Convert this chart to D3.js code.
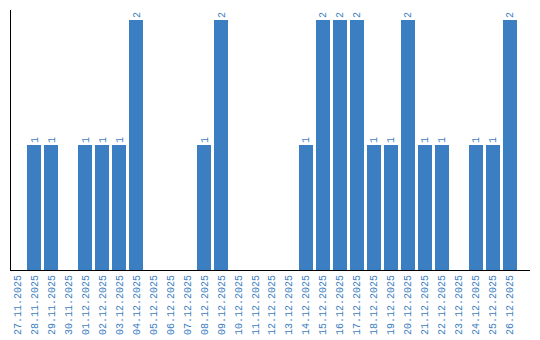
<!DOCTYPE html>
<html>
<head>
<meta charset="utf-8">
<script src="https://cdn.jsdelivr.net/npm/d3@7"></script>
<style>
  body { margin: 0; background: #fff; }
  text { font-family: "Liberation Mono", monospace; }
</style>
</head>
<body>
<div id="chart-area"></div>
<script>
var dates = ["27.11.2025", "28.11.2025", "29.11.2025", "30.11.2025", "01.12.2025",
             "02.12.2025", "03.12.2025", "04.12.2025", "05.12.2025", "06.12.2025",
             "07.12.2025", "08.12.2025", "09.12.2025", "10.12.2025", "11.12.2025",
             "12.12.2025", "13.12.2025", "14.12.2025", "15.12.2025", "16.12.2025",
             "17.12.2025", "18.12.2025", "19.12.2025", "20.12.2025", "21.12.2025",
             "22.12.2025", "23.12.2025", "24.12.2025", "25.12.2025", "26.12.2025"];
var counts = [0, 1, 1, 0, 1, 1, 1, 2, 0, 0,
              0, 1, 2, 0, 0, 0, 0, 1, 2, 2,
              2, 1, 1, 2, 1, 1, 0, 1, 1, 2];

var width = 540, height = 340;
var margin = {left: 10, right: 10, top: 10, bottom: 70};
var blue = "#3b7ec2";

var svg = d3.select("#chart-area")
  .append("svg")
  .attr("width", width)
  .attr("height", height);

var x = d3.scaleBand()
  .domain(dates)
  .range([margin.left, 517])
  .paddingInner(0.176)
  .paddingOuter(0);

var y = d3.scaleLinear()
  .domain([0, 2])
  .range([height - margin.bottom, 20]);

var data = dates.map(function (d, i) { return {date: d, value: counts[i]}; });

svg.selectAll("rect.bar")
  .data(data.filter(function (d) { return d.value > 0; }))
  .enter().append("rect")
  .attr("class", "bar")
  .attr("x", function (d) { return x(d.date); })
  .attr("y", function (d) { return y(d.value); })
  .attr("width", x.bandwidth())
  .attr("height", function (d) { return y(0) - y(d.value); })
  .attr("fill", blue);

// value labels, rotated
svg.selectAll("text.val")
  .data(data.filter(function (d) { return d.value > 0; }))
  .enter().append("text")
  .attr("class", "val")
  .attr("transform", function (d) {
    return "translate(" + (x(d.date) + x.bandwidth() / 2 + 3.5) + "," + (y(d.value) - 2) + ") rotate(-90)";
  })
  .attr("font-size", "10px")
  .attr("fill", blue)
  .text(function (d) { return d.value; });

// axes
var xAxis = d3.axisBottom(x).tickSize(0).tickPadding(0);
var gx = svg.append("g")
  .attr("transform", "translate(0," + y(0) + ")")
  .call(xAxis);
gx.select(".domain").attr("stroke", "#000").attr("d", "M" + margin.left + ",0.5H" + (width - margin.right));
gx.selectAll("text")
  .attr("font-family", "Liberation Mono, monospace")
  .attr("font-size", "10px")
  .attr("fill", blue)
  .attr("text-anchor", "end")
  .attr("dy", null)
  .attr("y", 0)
  .attr("transform", "translate(3.5,5) rotate(-90)");

svg.append("line")
  .attr("x1", margin.left + 0.5)
  .attr("x2", margin.left + 0.5)
  .attr("y1", margin.top)
  .attr("y2", y(0))
  .attr("stroke", "#000");
</script>
</body>
</html>
